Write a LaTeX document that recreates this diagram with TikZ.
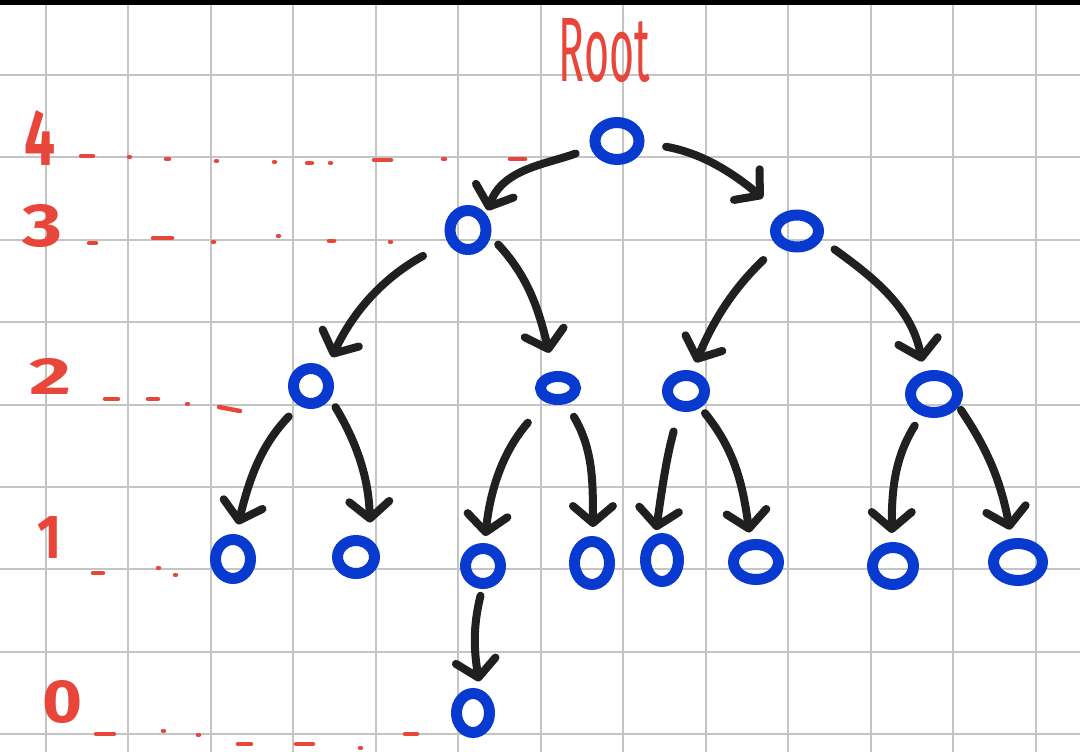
\documentclass[tikz,border=0pt]{standalone}
\usepackage{fontspec}
\setmainfont{Fira Sans}
\usetikzlibrary{arrows.meta,shapes.geometric}
\definecolor{penblue}{RGB}{8,58,208}
\definecolor{penred}{RGB}{232,70,58}
\definecolor{ink}{RGB}{32,32,32}
\definecolor{gridgray}{RGB}{196,196,196}
\tikzset{
  vtx/.style={ellipse, draw=penblue, line width=11pt, inner sep=0pt},
  edge/.style={draw=ink, line width=8pt, line cap=round,
    -{Straight Barb[length=17pt,width=40pt,line width=8pt,round]}},
  lvl/.style={text=penred, inner sep=0pt, font=\bfseries},
  rootlabel/.style={text=penred, inner sep=0pt},
  guide/.style={draw=penred, line width=4.5pt, line cap=round},
  gridline/.style={draw=gridgray, line width=2pt},
}
\begin{document}
\begin{tikzpicture}[x=1pt,y=1pt]
\fill[white] (0,0) rectangle (1080,-752);
\useasboundingbox (0,0) rectangle (1080,-752);
% grid
\foreach \k in {0,...,12} \draw[gridline] ({45.8+82.5*\k},0) -- ++(0,-752);
\foreach \k in {0,...,8} \draw[gridline] (0,{-75-82.4*\k}) -- ++(1080,0);
\fill[black] (0,0) rectangle (1080,-5);

% red guides
\foreach \a/\b/\y in {81/93/156,129/130/157,166/169/159,216/217/161,274/275/162,307/312/163,330/331/163,374/391/160,443/445/159,510/525/159}
  \draw[guide] (\a,-\y) -- (\b,-\y);
\foreach \a/\b/\y in {89/96/243,153/172/238,213/214/242,278/279/236,329/334/241,390/391/242}
  \draw[guide] (\a,-\y) -- (\b,-\y);
\foreach \a/\b/\y in {105/118/399,148/158/399,187/188/404}
  \draw[guide] (\a,-\y) -- (\b,-\y);
\draw[guide] (219,-407) -- (240,-411);
\foreach \a/\b/\y in {93/103/573,158/159/568,175/176/575}
  \draw[guide] (\a,-\y) -- (\b,-\y);
\foreach \a/\b/\y in {96/114/734,163/164/731,198/199/735,238/251/744,296/313/744,360/361/748,405/417/734}
  \draw[guide] (\a,-\y) -- (\b,-\y);

% labels
\node[rootlabel] (rootlbl) at (604.5,-51) {\resizebox{91pt}{63pt}{Root}};
\node[lvl] (l4) at (40,-138) {\resizebox{31pt}{55pt}{4}};
\node[lvl] (l3) at (43,-226) {\resizebox{40pt}{42pt}{3}};
\node[lvl] (l2) at (51,-376) {\resizebox{42pt}{36pt}{2}};
\node[lvl] (l1) at (50,-537) {\resizebox{24pt}{42pt}{1}};
\node[lvl] (l0) at (63,-702) {\resizebox{40pt}{42pt}{0}};

% nodes
\node[vtx, minimum width=44pt, minimum height=37pt] (root) at (617,-141) {};
\node[vtx, minimum width=36pt, minimum height=39pt] (a) at (468,-230) {};
\node[vtx, minimum width=43pt, minimum height=32pt] (b) at (797,-231) {};
\node[vtx, minimum width=35pt, minimum height=35pt] (c) at (311,-386) {};
\node[vtx, minimum width=35pt, minimum height=23pt] (d) at (558,-388) {};
\node[vtx, minimum width=37pt, minimum height=31pt] (e) at (686,-391) {};
\node[vtx, minimum width=47pt, minimum height=37pt] (f) at (934,-394) {};
\node[vtx, minimum width=35pt, minimum height=39pt] (g) at (233,-559) {};
\node[vtx, minimum width=37pt, minimum height=33pt] (h) at (356,-557) {};
\node[vtx, minimum width=35pt, minimum height=35pt] (i) at (483,-566) {};
\node[vtx, minimum width=35pt, minimum height=43pt] (j) at (592,-563) {};
\node[vtx, minimum width=33pt, minimum height=43pt] (k) at (662,-560) {};
\node[vtx, minimum width=45pt, minimum height=35pt] (l) at (756,-562) {};
\node[vtx, minimum width=41pt, minimum height=37pt] (m) at (893,-566) {};
\node[vtx, minimum width=49pt, minimum height=37pt] (n) at (1018,-562) {};
\node[vtx, minimum width=33pt, minimum height=39pt] (o) at (473,-713) {};

% edges
\draw[edge, shorten <=16pt, shorten >=4pt] (root.195) to[out=200,in=70] (a.41);
\draw[edge, shorten <=22pt, shorten >=24pt] (root.356) to[out=350,in=140] (b.132);
\draw[edge, shorten <=28pt, shorten >=13pt] (a.211) to[out=209,in=65] (c.48);
\draw[edge, shorten <=11pt, shorten >=19pt] (a.344) to[out=313,in=104] (d.104);
\draw[edge, shorten <=20pt, shorten >=9pt] (b.218) to[out=224,in=67] (e.73);
\draw[edge, shorten <=16pt, shorten >=10pt] (b.340) to[out=324,in=101] (f.114);
\draw[edge, shorten <=15pt, shorten >=10pt] (c.239) to[out=226,in=76] (g.84);
\draw[edge, shorten <=10pt, shorten >=17pt] (c.327) to[out=301,in=92] (h.50);
\draw[edge, shorten <=27pt, shorten >=7pt] (d.229) to[out=229,in=84] (i.86);
\draw[edge, shorten <=15pt, shorten >=9pt] (d.297) to[out=301,in=90] (j.88);
\draw[edge, shorten <=21pt, shorten >=4pt] (e.251) to[out=255,in=82] (k.104);
\draw[edge, shorten <=7pt, shorten >=7pt] (e.311) to[out=309,in=98] (l.104);
\draw[edge, shorten <=12pt, shorten >=9pt] (f.239) to[out=238,in=90] (m.93);
\draw[edge, shorten <=4pt, shorten >=9pt] (f.333) to[out=304,in=101] (n.105);
\draw[edge, shorten <=7pt, shorten >=8pt] (i.268) to[out=256,in=99] (o.73);
\end{tikzpicture}
\end{document}
